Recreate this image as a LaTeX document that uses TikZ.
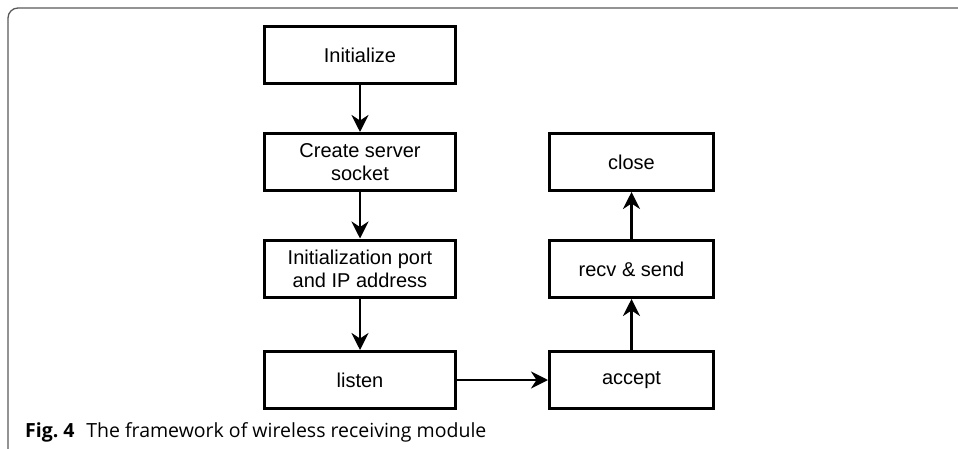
\documentclass[tikz,border=0pt]{standalone}
\usepackage{fontspec}
\setmainfont{Liberation Sans}
\newfontfamily\capfont{Open Sans}
\usetikzlibrary{arrows.meta}

\begin{document}
\begin{tikzpicture}[x=1pt,y=-1pt,
  box/.style={draw,line width=3pt,minimum width=191pt,minimum height=57pt,
    align=center,inner sep=0pt,font=\fontsize{20}{23}\selectfont},
  sbox/.style={box,minimum width=164pt},
  flow/.style={line width=2.4pt,-{Stealth[length=17pt,width=17pt,inset=5.5pt]}}]
\useasboundingbox (0,0) rectangle (958,449);
\draw[black!65,line width=1.3pt,rounded corners=10pt] (8,470) -- (8,8) -- (980,8);

\node[box] (a11) at (360, 55) {Initialize};
\node[box] (a12) at (360, 162) {Create server\\socket};
\node[box] (a13) at (360, 268.5) {Initialization port\\and IP address};
\node[box] (a14) at (360, 380) {listen};
\node[sbox] (a24) at (631.5, 380) {accept};
\node[sbox] (a23) at (631.5, 269) {recv \& send};
\node[sbox] (a22) at (631.5, 162) {close};

\draw[flow] (a11) -- (a12);
\draw[flow] (a12) -- (a13);
\draw[flow] (a13) -- (a14);
\draw[flow] (a14) -- (a24);
\draw[flow] (a24) -- (a23);
\draw[flow] (a23) -- (a22);

\node[anchor=base west,inner sep=0pt,font=\capfont\fontsize{19.5}{22}\selectfont] (cap) at (25, 437.5)
  {\textbf{Fig.~4}\hspace{0.6em}The framework of wireless receiving module};
\end{tikzpicture}
\end{document}
